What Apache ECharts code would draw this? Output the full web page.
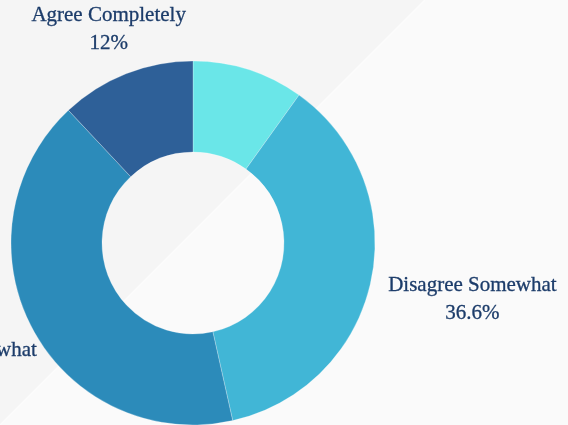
<!DOCTYPE html>
<html><head><meta charset="utf-8">
<script src="https://cdn.jsdelivr.net/npm/echarts@6/dist/echarts.min.js"></script>
<style>html,body{margin:0;padding:0;background:#f5f5f5}#c{width:568px;height:425px}</style>
</head><body><div id="c"></div>
<script>
const categories = ['Disagree Completely', 'Disagree Somewhat', 'Agree Somewhat', 'Agree Completely'];
const values = [9.9, 36.6, 41.5, 12];
const colors = ['#6ae6e8', '#41b6d6', '#2c8bba', '#2e6098'];
const shownLabels = [false, true, true, true];

const GAP = 17;
const chart = echarts.init(document.getElementById('c'), null, {renderer: 'canvas'});
const option = {
  backgroundColor: '#f5f5f5',
  animation: false,
  graphic: [
    {type: 'polygon', z: -10, silent: true, shape: {points: [[425, 0], [568, 0], [568, 425], [0, 425]]}, style: {fill: '#fafafa'}},
    {type: 'line', z: -9, silent: true, shape: {x1: 425, y1: 0, x2: 0, y2: 425}, style: {stroke: '#fcfcfc', lineWidth: 1.5}}
  ],
  series: [{
    type: 'pie',
    center: [193, 243],
    radius: [91, 182],
    startAngle: 90,
    clockwise: true,
    avoidLabelOverlap: false,
    color: colors,
    itemStyle: {borderColor: 'rgba(255,255,255,0.5)', borderWidth: 0.5},
    label: {
      show: true, position: 'outside', formatter: '{b}\n{c}%',
      color: '#1c3c6a', fontFamily: 'Liberation Serif', fontSize: 21, lineHeight: 28,
      textBorderColor: '#1c3c6a', textBorderWidth: 0.3
    },
    labelLine: {show: true, length: 20, length2: 0, lineStyle: {opacity: 0}},
    emphasis: {disabled: true},
    labelLayout: function (p) {
      const pts = p.labelLinePoints;
      const r = p.labelRect;
      if (!pts || pts.length < 2) return {};
      const x1 = pts[0][0], y1 = pts[0][1];
      const dx = pts[1][0] - x1, dy = pts[1][1] - y1;
      const l = Math.hypot(dx, dy) || 1;
      const ux = dx / l, uy = dy / l;
      const hw = r.width / 2, hh = r.height / 2;
      const t = Math.min(Math.abs(ux) > 1e-6 ? hw / Math.abs(ux) : Infinity,
                         Math.abs(uy) > 1e-6 ? hh / Math.abs(uy) : Infinity);
      return {x: x1 + ux * (GAP + t), y: y1 + uy * (GAP + t), align: 'center', verticalAlign: 'middle'};
    },
    data: categories.map((n, i) => ({
      name: n, value: values[i],
      label: {show: shownLabels[i]}, labelLine: {show: shownLabels[i]}
    }))
  }]
};
chart.setOption(option);
</script>
</body></html>
